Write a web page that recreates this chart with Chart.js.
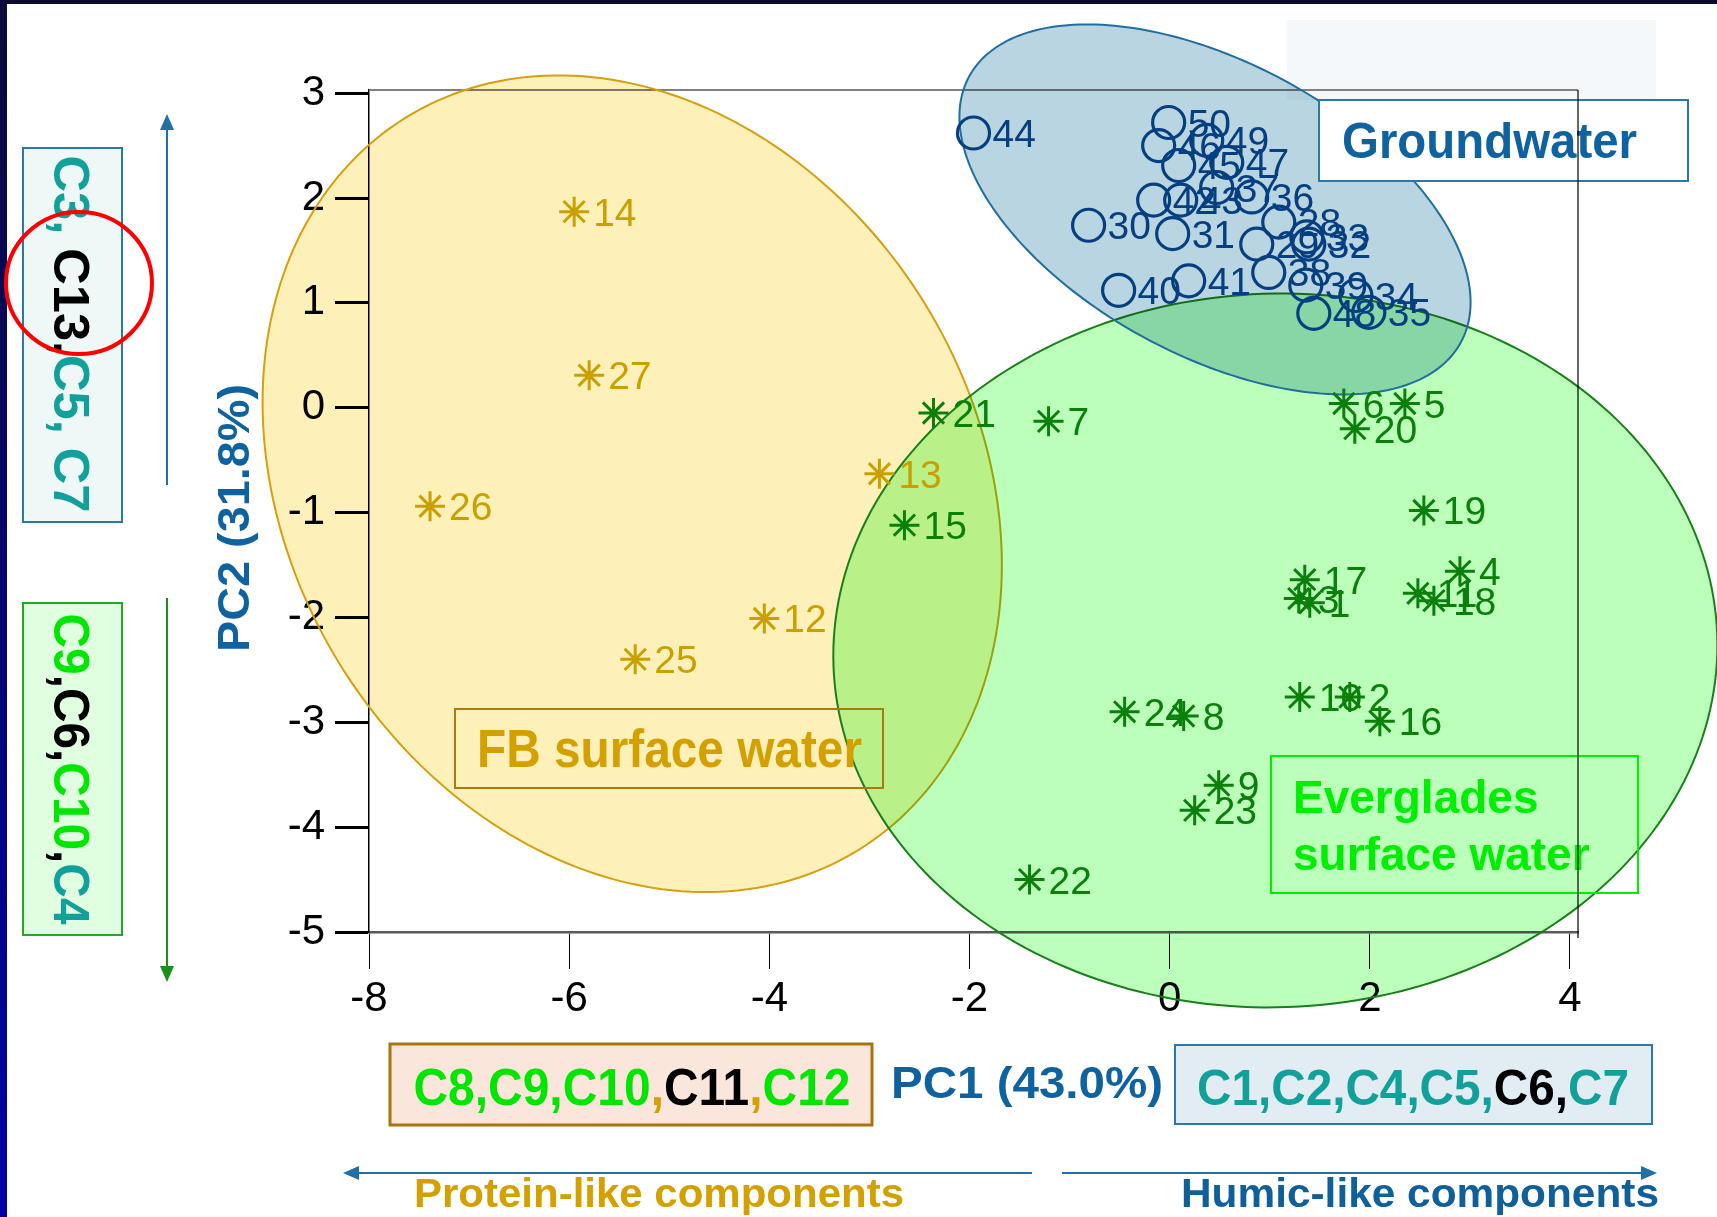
<!DOCTYPE html>
<html>
<head>
<meta charset="utf-8">
<script src="https://cdn.jsdelivr.net/npm/chart.js@4.4.1/dist/chart.umd.min.js"></script>
<style>
  html, body { margin: 0; padding: 0; background: #fff; }
  canvas { display: block; }
</style>
</head>
<body>
<canvas id="grafico" width="1717" height="1217"></canvas>
<script>
// PCA scores (PC1, PC2), grouped by water type
const fbIds = [12, 13, 14, 25, 26, 27];
const fbPc1 = [-4.05, -2.90, -5.95, -5.34, -7.39, -5.80];
const fbPc2 = [-2.01, -0.63, 1.87, -2.40, -0.94, 0.31];

const egIds = [1, 2, 3, 4, 5, 6, 7, 8, 9, 10, 11, 15, 16, 17, 18, 19, 20, 21, 22, 23, 24];
const egPc1 = [1.40, 1.80, 1.29, 2.90, 2.35, 1.74, -1.21, 0.14, 0.49, 1.30, 2.48, -2.65, 2.10, 1.35, 2.64, 2.54, 1.85, -2.36, -1.40, 0.25, -0.45];
const egPc2 = [-1.86, -2.76, -1.82, -1.56, 0.04, 0.04, -0.13, -2.94, -3.60, -2.76, -1.77, -1.12, -2.99, -1.64, -1.84, -0.98, -0.20, -0.05, -4.50, -3.84, -2.90];

const gwIds = [28, 29, 30, 31, 32, 33, 34, 35, 36, 37, 38, 39, 40, 41, 42, 43, 44, 45, 46, 47, 48, 49, 50];
const gwPc1 = [1.09, 0.87, -0.81, 0.03, 1.39, 1.37, 1.86, 1.99, 0.82, 0.47, 0.99, 1.36, -0.51, 0.19, -0.16, 0.11, -1.96, 0.09, -0.11, 0.57, 1.44, 0.37, -0.01];
const gwPc2 = [1.77, 1.56, 1.74, 1.66, 1.56, 1.63, 1.07, 0.91, 2.01, 2.10, 1.29, 1.17, 1.12, 1.21, 1.98, 1.98, 2.62, 2.31, 2.50, 2.34, 0.90, 2.55, 2.72];

const xTicks = [-8, -6, -4, -2, 0, 2, 4];
const yTicks = [-5, -4, -3, -2, -1, 0, 1, 2, 3];

// group ellipses: centre and two conjugate semi-axes, in PC units
const ellipseCenter = [[-5.37, -0.725], [1.056, -2.315], [0.453, 1.891]];
const ellipseAxisU = [[2.255, -3.496], [4.415, 0.147], [2.457, -1.267]];
const ellipseAxisV = [[-2.925, -1.716], [0.125, -3.401], [-0.696, -1.228]];

const FONT = '"Liberation Sans", Arial, sans-serif';
const GOLD = '#c9a000';
const GREEN = '#0a800a';
const NAVY = '#063f80';
const BLUE = '#0f62a0';
const TEAL = '#12a19a';
const LIME = '#00e600';
const ellipseFill = ['#fef0b9', '#bbffbb', '#b9d5e2'];
const ellipseLine = ['#d4a010', '#1a7f1a', '#1f6e9e'];

function toPoints(xs, ys) {
    return xs.map((x, i) => ({ x: x, y: ys[i] }));
}

function drawRich(ctx, segs, x, y, size, width, align) {
    ctx.font = 'bold ' + size + 'px ' + FONT;
    const total = segs.reduce((s, g) => s + ctx.measureText(g[0]).width, 0);
    const sx = width ? width / total : 1;
    ctx.save();
    ctx.translate(x, y);
    ctx.scale(sx, 1);
    ctx.textAlign = 'left';
    ctx.textBaseline = 'alphabetic';
    let cur = align === 'center' ? -total / 2 : 0;
    segs.forEach(([t, col]) => {
        ctx.fillStyle = col;
        ctx.fillText(t, cur, 0);
        cur += ctx.measureText(t).width;
    });
    ctx.restore();
}

function box(ctx, x1, y1, x2, y2, fill, stroke, lw) {
    if (fill) {
        ctx.fillStyle = fill;
        ctx.fillRect(x1, y1, x2 - x1, y2 - y1);
    }
    ctx.strokeStyle = stroke;
    ctx.lineWidth = lw;
    ctx.strokeRect(x1, y1, x2 - x1, y2 - y1);
}

function arrow(ctx, x1, y1, x2, y2, color) {
    const ang = Math.atan2(y2 - y1, x2 - x1);
    ctx.strokeStyle = color;
    ctx.fillStyle = color;
    ctx.lineWidth = 2;
    ctx.beginPath();
    ctx.moveTo(x1, y1);
    ctx.lineTo(x2 - 12 * Math.cos(ang), y2 - 12 * Math.sin(ang));
    ctx.stroke();
    ctx.beginPath();
    ctx.moveTo(x2, y2);
    ctx.lineTo(x2 - 16 * Math.cos(ang) + 7 * Math.sin(ang), y2 - 16 * Math.sin(ang) - 7 * Math.cos(ang));
    ctx.lineTo(x2 - 16 * Math.cos(ang) - 7 * Math.sin(ang), y2 - 16 * Math.sin(ang) + 7 * Math.cos(ang));
    ctx.closePath();
    ctx.fill();
}

const decor = {
    id: 'decor',
    beforeDraw(chart) {
        const ctx = chart.ctx;
        ctx.save();
        ctx.fillStyle = '#fff';
        ctx.fillRect(0, 0, chart.width, chart.height);
        ctx.fillStyle = '#f4f8fa';
        ctx.fillRect(1287, 20, 369, 80);
        ctx.fillStyle = '#0b0b2e';
        ctx.fillRect(0, 0, chart.width, 4);
        const g = ctx.createLinearGradient(0, 0, 0, chart.height);
        g.addColorStop(0, '#0a0a3a');
        g.addColorStop(1, '#0000a8');
        ctx.fillStyle = g;
        ctx.fillRect(0, 0, 7, chart.height);
        ctx.restore();
    },
    beforeDatasetsDraw(chart) {
        const ctx = chart.ctx;
        const xs = chart.scales.x, ys = chart.scales.y;
        const a = chart.chartArea;
        ctx.save();
        ctx.strokeStyle = '#808080';
        ctx.lineWidth = 2;
        ctx.beginPath();
        ctx.moveTo(a.left, a.top);
        ctx.lineTo(a.right, a.top);
        ctx.stroke();
        ellipseCenter.forEach((c, k) => {
            const u = ellipseAxisU[k], v = ellipseAxisV[k];
            const cx = xs.getPixelForValue(c[0]), cy = ys.getPixelForValue(c[1]);
            const ux = xs.getPixelForValue(c[0] + u[0]) - cx, uy = ys.getPixelForValue(c[1] + u[1]) - cy;
            const vx = xs.getPixelForValue(c[0] + v[0]) - cx, vy = ys.getPixelForValue(c[1] + v[1]) - cy;
            ctx.beginPath();
            for (let i = 0; i <= 240; i++) {
                const t = i / 240 * 2 * Math.PI;
                const px = cx + ux * Math.cos(t) + vx * Math.sin(t);
                const py = cy + uy * Math.cos(t) + vy * Math.sin(t);
                if (i === 0) ctx.moveTo(px, py); else ctx.lineTo(px, py);
            }
            ctx.closePath();
            ctx.globalCompositeOperation = 'multiply';
            ctx.fillStyle = ellipseFill[k];
            ctx.fill();
            ctx.globalCompositeOperation = 'source-over';
            ctx.strokeStyle = ellipseLine[k];
            ctx.lineWidth = 2;
            ctx.stroke();
        });
        ctx.restore();
    },
    afterDatasetsDraw(chart) {
        const ctx = chart.ctx;
        ctx.save();
        ctx.font = '39px ' + FONT;
        ctx.textAlign = 'left';
        ctx.textBaseline = 'alphabetic';
        chart.data.datasets.forEach((ds, i) => {
            const meta = chart.getDatasetMeta(i);
            ctx.fillStyle = ds.borderColor;
            meta.data.forEach((el, j) => {
                ctx.fillText(String(ds.ids[j]), el.x + 19, el.y + 14);
            });
        });
        ctx.restore();
    },
    afterDraw(chart) {
        const ctx = chart.ctx;
        const a = chart.chartArea;
        ctx.save();

        // group labels inside the plot
        box(ctx, 1319, 100, 1688, 181, '#fff', '#2a78aa', 2);
        drawRich(ctx, [['Groundwater', BLUE]], 1342, 158, 50, 295);
        box(ctx, 455, 709, 883, 788, null, '#a87a10', 2);
        drawRich(ctx, [['FB surface water', '#d4a000']], 477, 767, 53, 385);
        box(ctx, 1271, 756, 1638, 893, null, '#00ee00', 2);
        drawRich(ctx, [['Everglades', '#00ee00']], 1293, 813, 46);
        drawRich(ctx, [['surface water', '#00ee00']], 1293, 870, 46);

        // PC2 loadings, left side
        box(ctx, 23, 148, 122, 522, '#eef8f7', '#2a78aa', 2);
        ctx.save();
        ctx.translate(72, 334);
        ctx.rotate(Math.PI / 2);
        drawRich(ctx, [['C3,', TEAL], [' C13,', '#000'], ['C5, C7', TEAL]], 0, 18, 50, 357, 'center');
        ctx.restore();
        box(ctx, 23, 603, 122, 935, '#e0ffe0', '#22a822', 2);
        ctx.save();
        ctx.translate(72, 769);
        ctx.rotate(Math.PI / 2);
        drawRich(ctx, [['C9', LIME], [',C6,', '#000'], ['C10', LIME], [',', '#000'], ['C4', TEAL]], 0, 18, 50, 311, 'center');
        ctx.restore();
        // red highlight round C13
        ctx.strokeStyle = '#ff0000';
        ctx.lineWidth = 4;
        ctx.beginPath();
        ctx.ellipse(79, 283, 73, 71, 0, 0, 2 * Math.PI);
        ctx.stroke();
        arrow(ctx, 167, 485, 167, 114, '#1f6fa8');
        arrow(ctx, 167, 598, 167, 982, '#1a8f1a');
        ctx.save();
        ctx.translate(233, 518);
        ctx.rotate(-Math.PI / 2);
        drawRich(ctx, [['PC2 (31.8%)', BLUE]], 0, 16, 45, 268, 'center');
        ctx.restore();

        // PC1 loadings, bottom
        box(ctx, 390, 1044, 872, 1125, '#fbe6dc', '#a87410', 3);
        drawRich(ctx, [['C8,C9,C10', LIME], [',', '#d4a000'], ['C11', '#000'], [',', '#d4a000'], ['C12', LIME]], 632, 1105, 51, 437, 'center');
        drawRich(ctx, [['PC1 (43.0%)', BLUE]], 1027, 1098, 44, 272, 'center');
        box(ctx, 1175, 1045, 1652, 1124, '#e1edf3', '#2a78aa', 2);
        drawRich(ctx, [['C1,C2,C4,C5,', TEAL], ['C6,', '#000'], ['C7', TEAL]], 1413, 1105, 50, 432, 'center');
        arrow(ctx, 1032, 1173, 343, 1173, '#1f6fa8');
        arrow(ctx, 1062, 1173, 1657, 1173, '#1f6fa8');
        drawRich(ctx, [['Protein-like components', '#d4a000']], 414, 1207, 40, 490);
        drawRich(ctx, [['Humic-like components', '#0f5f9a']], 1181, 1207, 40, 478);

        // right frame line over everything
        ctx.strokeStyle = '#000';
        ctx.lineWidth = 1.2;
        ctx.beginPath();
        ctx.moveTo(a.right, a.top);
        ctx.lineTo(a.right, a.bottom + 6);
        ctx.stroke();
        ctx.restore();
    }
};

const ctx = document.getElementById('grafico').getContext('2d');
new Chart(ctx, {
    type: 'scatter',
    data: {
        datasets: [{
            label: 'FB surface water',
            ids: fbIds,
            data: toPoints(fbPc1, fbPc2),
            pointStyle: 'star',
            pointRadius: 15,
            pointBorderWidth: 3,
            borderColor: GOLD,
            backgroundColor: GOLD,
            clip: false
        }, {
            label: 'Everglades surface water',
            ids: egIds,
            data: toPoints(egPc1, egPc2),
            pointStyle: 'star',
            pointRadius: 15,
            pointBorderWidth: 3,
            borderColor: GREEN,
            backgroundColor: GREEN,
            clip: false
        }, {
            label: 'Groundwater',
            ids: gwIds,
            data: toPoints(gwPc1, gwPc2),
            pointStyle: 'circle',
            pointRadius: 16,
            pointBorderWidth: 3.2,
            borderColor: NAVY,
            backgroundColor: 'rgba(0,0,0,0)',
            clip: false
        }]
    },
    options: {
        responsive: false,
        animation: false,
        devicePixelRatio: 1,
        layout: { padding: { left: 0, top: 90, right: 139, bottom: 0 } },
        plugins: { legend: { display: false }, tooltip: { enabled: false } },
        scales: {
            x: {
                type: 'linear',
                min: -8,
                max: 4.08,
                afterFit: s => { s.height = 285; },
                afterBuildTicks: s => { s.ticks = xTicks.map(v => ({ value: v })); },
                grid: { drawOnChartArea: false, tickLength: 37, tickWidth: 1, tickColor: '#000' },
                border: { color: '#5a5a5a', width: 2.5 },
                ticks: { color: '#000', font: { size: 42, family: FONT }, padding: 5, maxRotation: 0, autoSkip: false }
            },
            y: {
                type: 'linear',
                min: -5,
                max: 3.03,
                afterFit: s => { s.width = 369; },
                afterBuildTicks: s => { s.ticks = yTicks.map(v => ({ value: v })); },
                grid: { drawOnChartArea: false, tickLength: 34, tickWidth: 3, tickColor: '#000' },
                border: { color: '#000', width: 1.5 },
                ticks: { color: '#000', font: { size: 42, family: FONT }, padding: 10, autoSkip: false }
            }
        }
    },
    plugins: [decor]
});
</script>
</body>
</html>
